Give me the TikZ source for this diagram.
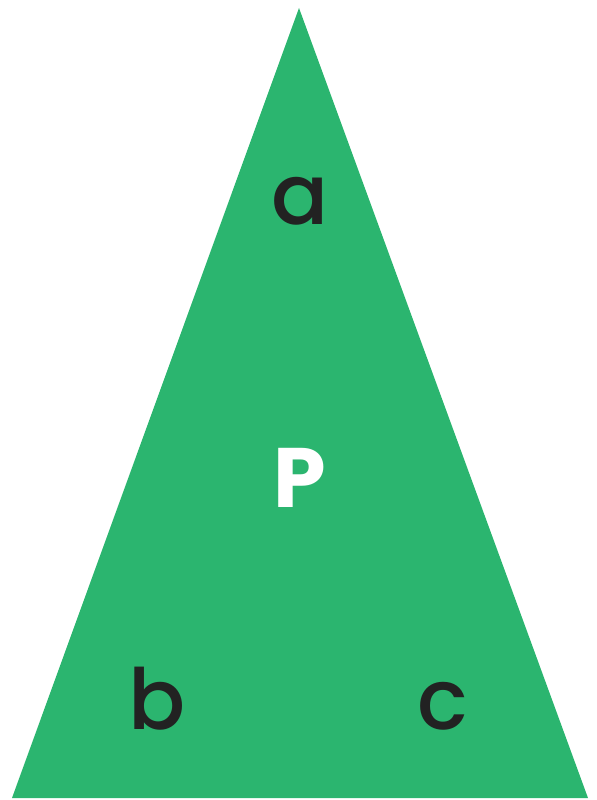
\documentclass[tikz,border=0pt]{standalone}
\usepackage{fontspec}
\setmainfont{Poppins}[UprightFont=* Medium, BoldFont=* Bold]
\usepackage{xcolor}
\usetikzlibrary{positioning}
\definecolor{trigreen}{HTML}{2BB56F}
\definecolor{labeldark}{HTML}{222222}

\begin{document}
\begin{tikzpicture}[
  x=0.02cm, y=-0.02cm,
  corner/.style={anchor=base, text=labeldark, font=\fontsize{48}{48}\selectfont, inner sep=0pt},
  centre/.style={anchor=base, text=white, font=\fontsize{48}{48}\selectfont\bfseries, inner sep=0pt}
]
\useasboundingbox (0,0) rectangle (597,800);
\coordinate (top) at (299,8);
\coordinate (left) at (12,798);
\coordinate (right) at (588,798);
\fill[trigreen] (top) -- (left) -- (right) -- cycle;

\node[corner] (a) at (300,225) {a};
\node[centre] (p) at (300,507) {P};
\node[corner] (b) at (157,729) {b};
\node[corner] (c) at (443,729) {c};
\end{tikzpicture}
\end{document}
